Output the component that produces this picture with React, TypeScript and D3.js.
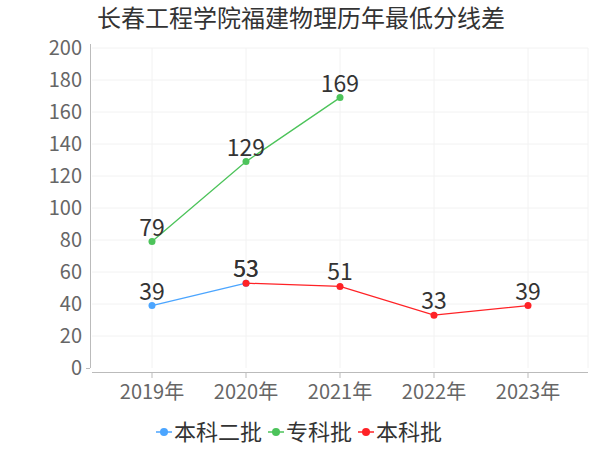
import React from 'react';
import * as d3 from 'd3';

const years = ['2019年', '2020年', '2021年', '2022年', '2023年'];
const benke2 = [39, 53, null, null, null];
const zhuanke = [79, 129, 169, null, null];
const benke = [null, 53, 51, 33, 39];
const seriesNames = ['本科二批', '专科批', '本科批'];
const seriesColors = ['#4ba5ff', '#4cc35a', '#ff2226'];
const yTicks = [0, 20, 40, 60, 80, 100, 120, 140, 160, 180, 200];

const W = 600;
const H = 450;
const font = '"Noto Sans CJK SC", "Noto Sans", sans-serif';

export default function App() {
  const x = d3.scalePoint<string>().domain(years).range([152, 528]);
  const y = d3.scaleLinear().domain([0, 200]).range([368, 48]);
  const line = d3
    .line<number | null>()
    .defined(d => d != null)
    .x((d, i) => x(years[i]) as number)
    .y(d => y(d as number));

  const all = [benke2, zhuanke, benke];

  return (
    <svg width={W} height={H} style={{ position: 'absolute', left: 0, top: 0 }} fontFamily={font}>
      <rect width={W} height={H} fill="#fff" />
      <text x={301} y={27} textAnchor="middle" fontSize={24} fill="#333">
        长春工程学院福建物理历年最低分线差
      </text>

      {/* grid */}
      <g stroke="#f2f2f2" strokeWidth={1}>
        {yTicks.slice(1).map(t => (
          <line key={t} x1={92} x2={588} y1={y(t)} y2={y(t)} />
        ))}
        {years.map(c => (
          <line key={c} x1={x(c)} x2={x(c)} y1={48} y2={368} />
        ))}
        <line x1={588} x2={588} y1={48} y2={368} />
      </g>

      {/* y axis */}
      <line x1={90.5} x2={90.5} y1={44} y2={368} stroke="#bbb" />
      <line x1={86} x2={90} y1={368.5} y2={368.5} stroke="#bbb" />
      {yTicks.map(t => (
        <text key={t} x={82} y={y(t)} dy="0.35em" textAnchor="end" fontSize={20} fill="#666">
          {t}
        </text>
      ))}

      {/* x axis */}
      <line x1={92} x2={588} y1={372.5} y2={372.5} stroke="#bbb" />
      {years.map(c => (
        <g key={c}>
          <line x1={x(c)} x2={x(c)} y1={372} y2={378} stroke="#bbb" />
          <text x={x(c)} y={399} textAnchor="middle" fontSize={20} fill="#666">
            {c}
          </text>
        </g>
      ))}

      {/* series */}
      {all.map((s, si) => (
        <g key={si}>
          <path d={line(s) || ''} fill="none" stroke={seriesColors[si]} strokeWidth={1.3} />
          {s.map((v, i) =>
            v == null ? null : (
              <circle key={i} cx={x(years[i])} cy={y(v)} r={3.5} fill={seriesColors[si]} />
            ),
          )}
          {s.map((v, i) =>
            v == null ? null : (
              <text key={'t' + i} x={x(years[i])} y={y(v) - 6} textAnchor="middle" fontSize={23} fill="#333">
                {v}
              </text>
            ),
          )}
        </g>
      ))}

      {/* legend */}
      {(() => {
        const widths = seriesNames.map(n => 20 + n.length * 22 + 4);
        const total = d3.sum(widths);
        let cx = 302 - total / 2;
        return seriesNames.map((n, i) => {
          const x0 = cx;
          cx += widths[i];
          return (
            <g key={n} transform={`translate(${x0},432)`}>
              <line x1={0} x2={16} y1={0} y2={0} stroke={seriesColors[i]} strokeWidth={1.5} />
              <circle cx={8} cy={0} r={4} fill={seriesColors[i]} />
              <text x={18} y={0} dy="0.35em" fontSize={22} fill="#333">
                {n}
              </text>
            </g>
          );
        });
      })()}
    </svg>
  );
}
